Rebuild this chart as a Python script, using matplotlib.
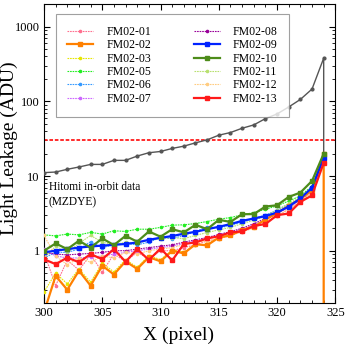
import matplotlib
matplotlib.use("Agg")
import matplotlib.pyplot as plt
from matplotlib.ticker import MultipleLocator, LogLocator, NullFormatter, FixedLocator, FixedFormatter

plt.rcParams["font.family"] = ["Liberation Serif", "DejaVu Serif"]

pixels = list(range(300, 325))

# Hitomi in-orbit reference (gray)
hitomi = [11.1, 11.3, 12.3, 13.2, 14.3, 14.3, 16.2, 16.2, 18.5, 20.5, 21.3, 23.4, 25.1,
          27.8, 30.5, 35.2, 38.2, 43.6, 48.3, 58.7, 67.7, 84, 106, 146, 378]
hitomi_drop = 19.0

fm02_01 = [0.95, 0.34, 0.75, 0.55, 0.88, 0.52, 0.9, 0.72, 0.95, 0.78, 1.0, 1.0, 1.1, 1.2,
           1.35, 1.45, 1.6, 1.8, 2.05, 2.4, 2.9, 3.6, 4.5, 6.1, 16.0]
fm02_02 = [0.15, 0.46, 0.30, 0.54, 0.34, 0.63, 0.48, 0.72, 0.57, 0.82, 0.72, 1.0, 0.92, 1.22,
           1.18, 1.5, 1.6, 1.9, 2.1, 2.6, 3.2, 4.0, 4.9, 6.5, 19.5]
fm02_03 = [0.28, 0.5, 0.36, 0.57, 0.38, 0.68, 0.52, 0.76, 0.6, 0.86, 0.76, 1.02, 0.96, 1.2,
           1.22, 1.5, 1.62, 1.9, 2.1, 2.6, 3.2, 4.0, 5.0, 6.8, 18.0]
fm02_05 = [1.63, 1.58, 1.67, 1.63, 1.76, 1.67, 1.85, 1.81, 1.94, 1.94, 2.05, 2.2, 2.22, 2.31,
           2.46, 2.64, 2.78, 3.02, 3.24, 3.59, 3.98, 4.64, 5.4, 7.36, 18.5]
fm02_06 = [0.8, 0.95, 0.95, 1.05, 1.32, 1.1, 1.2, 1.25, 1.2, 1.3, 1.5, 1.45, 1.6, 1.8,
           2.1, 2.0, 2.2, 2.4, 2.7, 3.0, 3.5, 4.2, 5.0, 6.8, 17.0]
fm02_07 = [1.05, 0.85, 0.8, 0.8, 0.82, 0.85, 0.9, 0.95, 1.0, 1.05, 1.1, 1.15, 1.25, 1.35,
           1.45, 1.6, 1.75, 1.95, 2.2, 2.6, 3.1, 3.8, 4.7, 6.3, 16.0]
fm02_08 = [0.95, 0.9, 0.88, 0.9, 0.92, 0.95, 1.0, 1.0, 1.05, 1.1, 1.15, 1.2, 1.3, 1.4,
           1.5, 1.65, 1.8, 2.0, 2.3, 2.7, 3.2, 3.9, 4.8, 6.5, 16.5]
fm02_09 = [0.95, 1.0, 1.05, 1.1, 1.14, 1.17, 1.2, 1.23, 1.29, 1.4, 1.49, 1.57, 1.69, 1.79,
           1.94, 2.09, 2.27, 2.51, 2.7, 2.9, 3.25, 3.9, 5.0, 7.0, 17.5]
fm02_10 = [1.0, 1.25, 1.05, 1.36, 1.1, 1.46, 1.19, 1.58, 1.32, 1.81, 1.54, 1.94, 1.76, 2.22,
           1.94, 2.59, 2.43, 3.08, 3.09, 3.9, 4.06, 5.25, 6.0, 8.6, 19.9]
fm02_11 = [0.8, 1.15, 0.95, 1.25, 1.6, 1.3, 1.2, 1.3, 1.25, 1.4, 1.45, 1.5, 1.45, 1.6,
           1.75, 1.9, 2.05, 2.3, 2.55, 2.9, 3.5, 4.3, 5.2, 7.0, 18.0]
fm02_12 = [1.6, 0.85, 0.65, 0.8, 0.7, 0.85, 0.8, 0.95, 0.9, 1.0, 1.05, 1.1, 1.2, 1.3,
           1.35, 1.45, 1.6, 1.8, 2.0, 2.4, 2.9, 3.6, 4.5, 6.0, 16.0]
fm02_13 = [0.77, 0.66, 0.81, 0.7, 0.9, 0.77, 1.05, 0.71, 1.05, 0.75, 1.07, 0.74, 1.23, 1.29,
           1.46, 1.56, 1.76, 1.81, 2.15, 2.27, 2.99, 3.15, 4.5, 5.5, 15.0]

threshold = 30

series = [
    ("FM02-01", fm02_01, "#ff6f8f", "thin"),
    ("FM02-02", fm02_02, "#ff8000", "thick"),
    ("FM02-03", fm02_03, "#e6e600", "thin"),
    ("FM02-05", fm02_05, "#22ee22", "thin"),
    ("FM02-06", fm02_06, "#3399ff", "thin"),
    ("FM02-07", fm02_07, "#cc66ff", "thin"),
    ("FM02-08", fm02_08, "#990099", "thin"),
    ("FM02-09", fm02_09, "#0022ff", "thick"),
    ("FM02-10", fm02_10, "#4d8c1a", "thick"),
    ("FM02-11", fm02_11, "#b8e070", "thin"),
    ("FM02-12", fm02_12, "#ffcc80", "thin"),
    ("FM02-13", fm02_13, "#ff1a1a", "thick"),
]

fig = plt.figure(figsize=(3.45, 3.45), dpi=100)
ax = fig.add_axes([0.1275, 0.122, 0.8445, 0.866])

ax.plot(pixels + [pixels[-1]], hitomi + [hitomi_drop], color="#555555", lw=1.0,
        marker="o", ms=2.0, zorder=3)
ax.axhline(threshold, color="#ff1a1a", lw=1.3, ls=(0, (2, 1)), zorder=2)

handles = []
for name, vals, color, kind in series:
    xs, ys = pixels, vals
    if name == "FM02-02":
        xs = pixels + [pixels[-1]]
        ys = vals + [0.01]
    if kind == "thick":
        (h,) = ax.plot(xs, ys, color=color, lw=1.6, marker="s", ms=2.5, label=name, zorder=4)
    else:
        (h,) = ax.plot(xs, ys, color=color, lw=0.8, ls=(0, (1.5, 0.8)), marker="o", ms=1.6,
                       label=name, zorder=3)
    handles.append(h)

ax.set_yscale("log")
ax.set_xlim(300, 325)
ax.set_ylim(0.2, 2000)
ax.xaxis.set_major_locator(MultipleLocator(5))
ax.xaxis.set_minor_locator(MultipleLocator(1))
ax.yaxis.set_major_locator(FixedLocator([1, 10, 100, 1000]))
ax.yaxis.set_major_formatter(FixedFormatter(["1", "10", "100", "1000"]))
ax.yaxis.set_minor_locator(LogLocator(base=10, subs=range(2, 10)))
ax.yaxis.set_minor_formatter(NullFormatter())
ax.tick_params(which="both", direction="in", top=True, right=True, labelsize=9)
ax.tick_params(which="major", length=4, pad=3)
ax.tick_params(which="minor", length=2)

ax.set_xlabel("X (pixel)", fontsize=14)
ax.set_ylabel("Light Leakage (ADU)", fontsize=14)
ax.xaxis.set_label_coords(0.46, -0.08)
ax.yaxis.set_label_coords(-0.088, 0.517)

ax.text(300.4, 8.5, "Hitomi in-orbit data\n(MZDYE)", fontsize=8.3, va="top", ha="left",
        linespacing=1.3)

leg = ax.legend(handles=handles, ncol=2, loc="upper left", bbox_to_anchor=(0.04, 0.967),
                borderaxespad=0, fontsize=8.5, frameon=True, fancybox=False,
                edgecolor="#888888", handlelength=2.2, handletextpad=1.1,
                columnspacing=3.6, labelspacing=0.12, borderpad=1.0)
leg.get_frame().set_linewidth(0.8)

fig.savefig("out.png", dpi=100)
